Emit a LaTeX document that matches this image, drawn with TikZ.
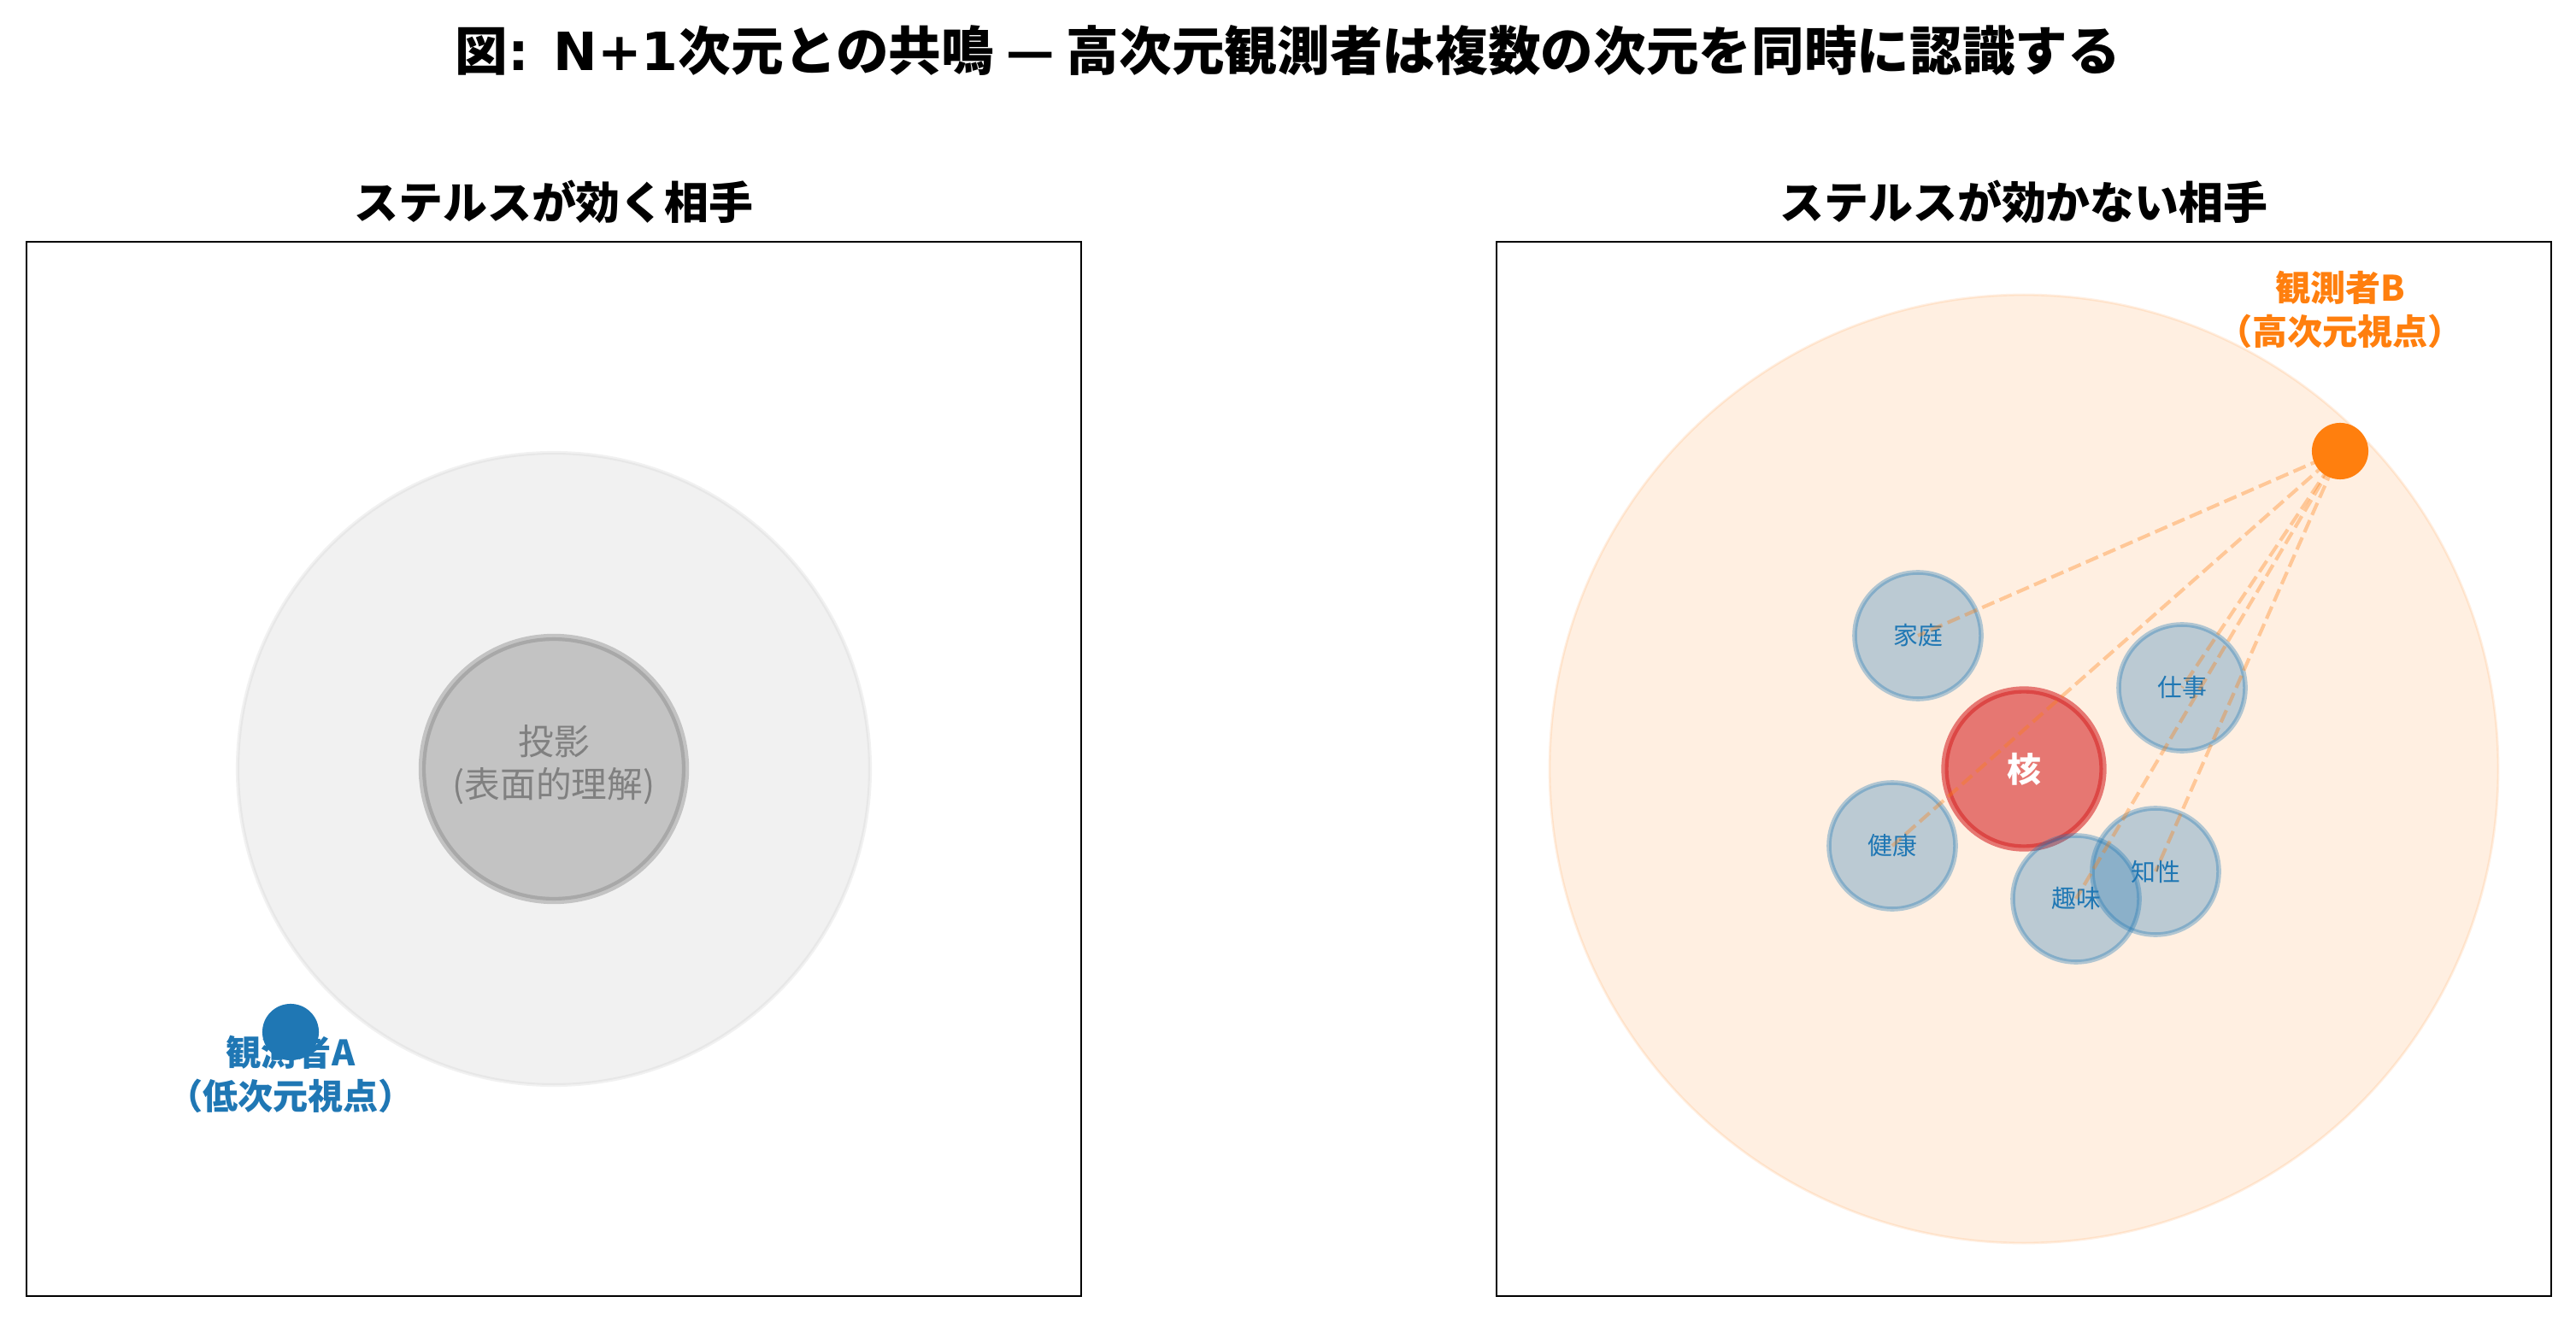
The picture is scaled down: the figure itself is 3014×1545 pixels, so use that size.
\documentclass[tikz,border=0pt]{standalone}
\usepackage{fontspec}
\setmainfont{Noto Sans CJK JP}
\newfontfamily\latinfont{DejaVu Sans}
\definecolor{tabblue}{HTML}{1F77B4}
\definecolor{taborange}{HTML}{FF7F0E}
\definecolor{tabred}{HTML}{D62728}
\definecolor{lgray}{HTML}{D3D3D3}
\definecolor{mgray}{HTML}{808080}
\begin{document}
\begin{tikzpicture}[x=0.36pt,y=-0.36pt,
  panelframe/.style={draw=black,line width=1pt},
  ttl/.style={font=\bfseries\fontsize{22.2pt}{26pt}\selectfont, inner sep=0},
  subttl/.style={font=\bfseries\fontsize{18.7pt}{22pt}\selectfont, inner sep=0},
  aspect/.style={circle, minimum size=53.3pt, inner sep=0, fill=tabblue, draw=tabblue,
     fill opacity=0.3, draw opacity=0.35, line width=2pt, text opacity=1, text=tabblue,
     font=\fontsize{10.4pt}{12pt}\selectfont},
  ray/.style={draw=taborange, draw opacity=0.35, line width=1.5pt, dash pattern=on 5.55pt off 2.4pt},
  obs/.style={circle, minimum size=23.8pt, inner sep=0, fill=#1},
  obslabel/.style={font=\bfseries\fontsize{14.8pt}{18.4pt}\selectfont, align=center, inner sep=0, text=#1}
]
\useasboundingbox (0,0) rectangle (3014,1545);
\fill[white] (0,0) rectangle (3014,1545);

\node[ttl] (title) at (1507,59) {図{\latinfont\bfseries: N+1}次元との共鳴 — 高次元観測者は複数の次元を同時に認識する};

% ---------- left panel ----------
\node[subttl] (lefttitle) at (648,236) {ステルスが効く相手};
\draw[panelframe] (31,283) rectangle (1265,1517);
\draw[fill=lgray, fill opacity=0.3, draw=lgray, draw opacity=0.3, line width=1.5pt] (648,900) circle[radius=370];
\node[circle, minimum size=110.9pt, inner sep=0, fill=gray, draw=gray, fill opacity=0.4, draw opacity=0.4,
      line width=3pt] (proj) at (648,900) {};
\node[text=mgray, align=center, inner sep=0, font=\fontsize{15pt}{18pt}\selectfont] (projlabel) at (648,895) {投影\\(表面的理解)};
\node[obs=tabblue] (A) at (340,1208) {};
\node[obslabel=tabblue] (Alabel) at (340,1257) {観測者A\\（低次元視点）};

% ---------- right panel ----------
\node[subttl] (righttitle) at (2368,236) {ステルスが効かない相手};
\draw[panelframe] (1751,283) rectangle (2985,1517);
\draw[fill=taborange, fill opacity=0.12, draw=taborange, draw opacity=0.12, line width=1pt] (2368,900) circle[radius=555];

\node[circle, minimum size=66.6pt, inner sep=0, fill=tabred, draw=tabred, fill opacity=0.6, draw opacity=0.6,
      line width=3pt, text opacity=1, text=white, font=\bfseries\fontsize{14.4pt}{17pt}\selectfont] (core) at (2368,900) {核};

\node[aspect] (family) at (2244,744) {家庭};
\node[aspect] (work) at (2553,805) {仕事};
\node[aspect] (health) at (2214,990) {健康};
\node[aspect] (hobby) at (2429,1052) {趣味};
\node[aspect] (intellect) at (2522,1020) {知性};

\coordinate (Bc) at (2738,528);
\draw[ray] (Bc) -- (family.center);
\draw[ray] (Bc) -- (work.center);
\draw[ray] (Bc) -- (health.center);
\draw[ray] (Bc) -- (hobby.center);
\draw[ray] (Bc) -- (intellect.center);

\node[obs=taborange] (B) at (Bc) {};
\node[obslabel=taborange] (Blabel) at (2738,362) {観測者B\\（高次元視点）};
\end{tikzpicture}
\end{document}
